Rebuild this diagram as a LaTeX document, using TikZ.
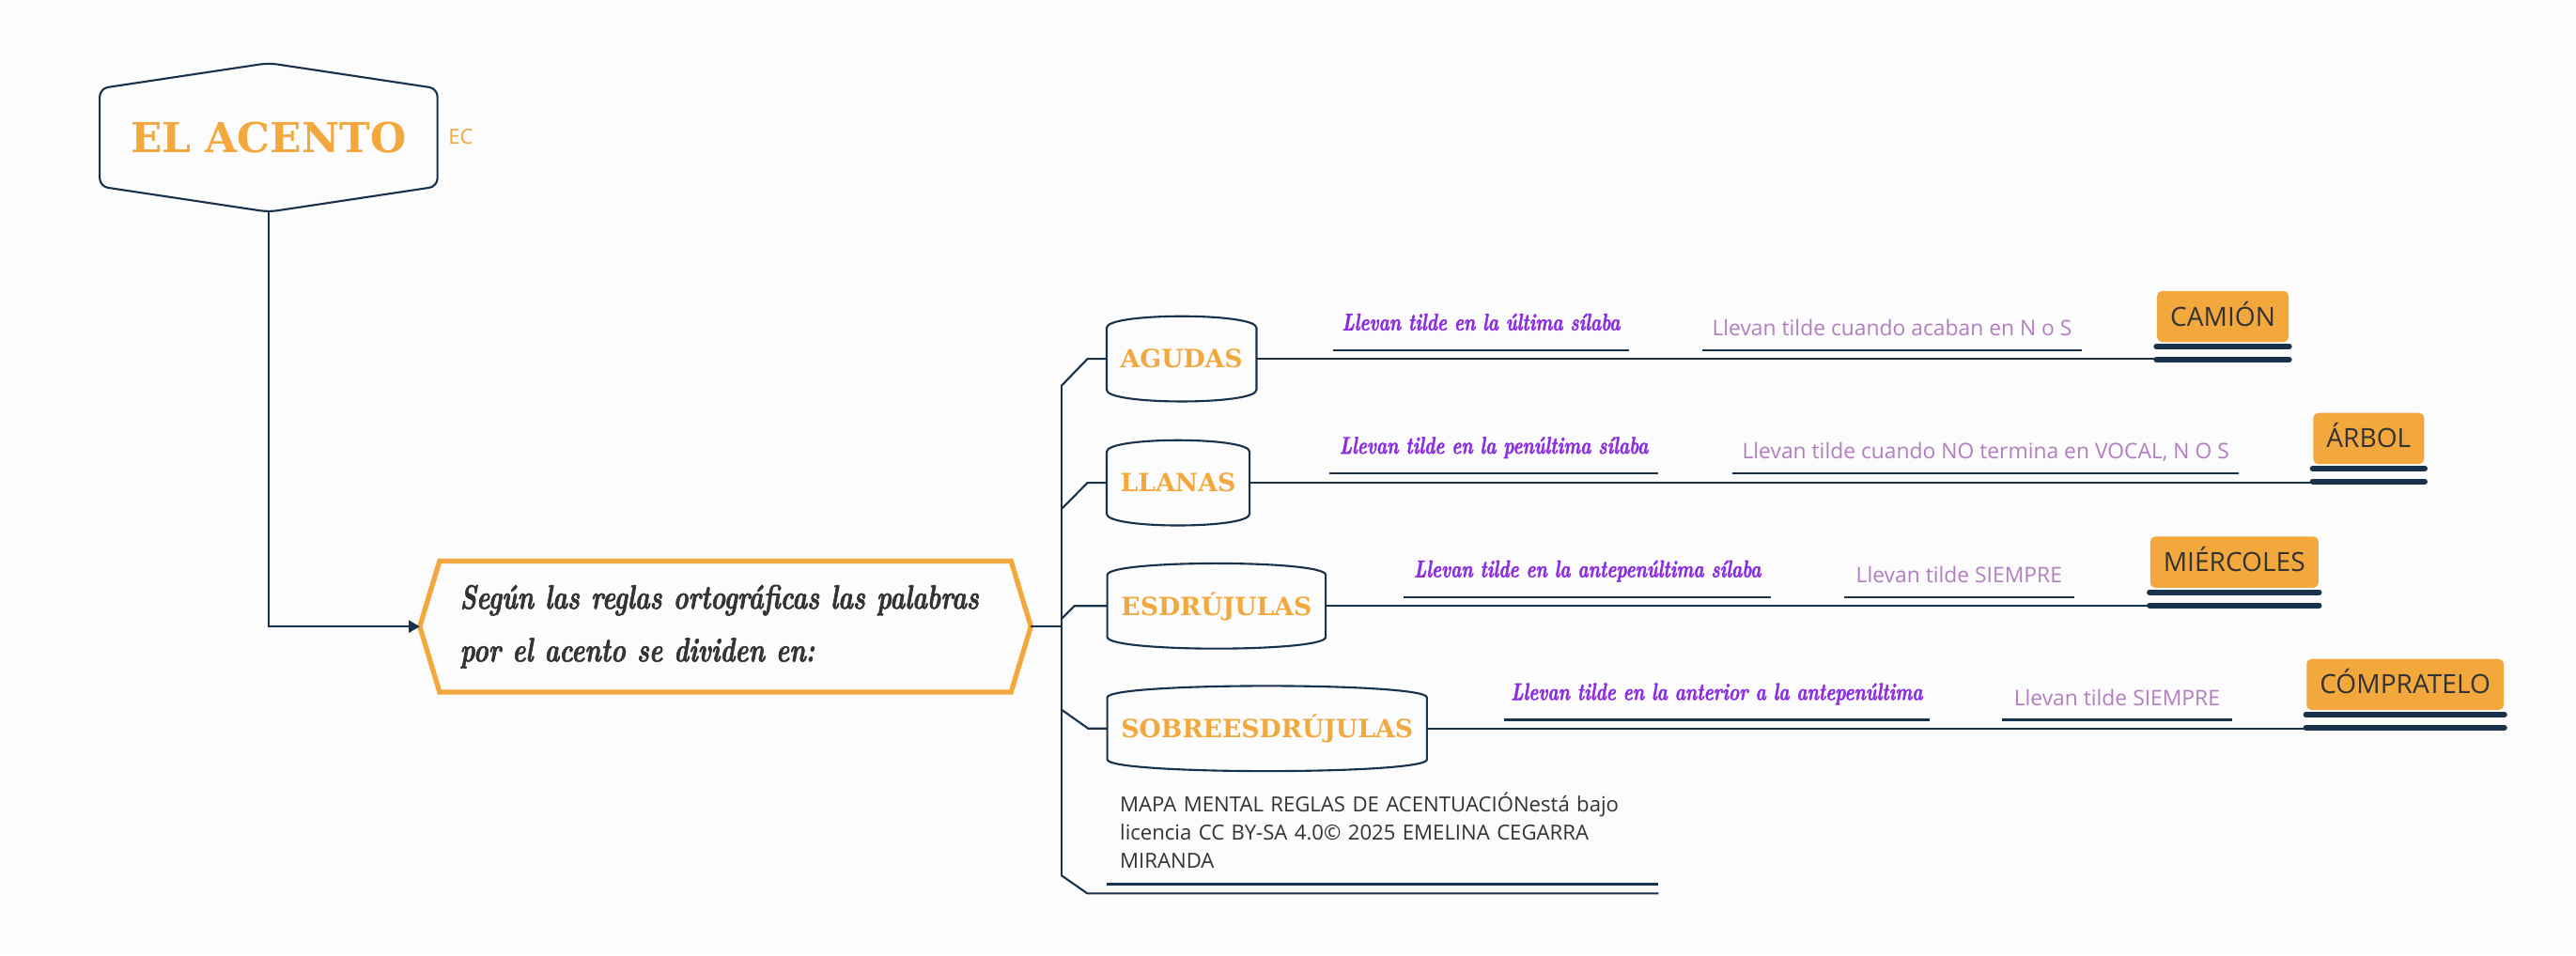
\documentclass[tikz,border=0pt]{standalone}
\usepackage{fontspec}
\setmainfont{Open Sans}
\newfontfamily\fuentetitulo{DejaVu Serif}
\newfontfamily\manuscrita{lmroman10-bolditalic}[Extension=.otf, FakeStretch=0.74, FakeBold=1.6]
\usetikzlibrary{arrows.meta}

\definecolor{azul}{HTML}{17324A}
\definecolor{naranja}{HTML}{F2A83C}
\definecolor{morado}{HTML}{8B2BE2}
\definecolor{lila}{HTML}{B27DC1}
\definecolor{oscuro}{HTML}{333333}
\definecolor{fondo}{HTML}{FCFCFC}

\tikzset{
  linea/.style={draw=azul, line width=0.6pt},
  barra/.style={draw=azul, line width=1.7pt, line cap=round},
  subrayado/.style={append after command={(\tikzlastnode.south west) edge[linea] (\tikzlastnode.south east)}},
  titulo/.style={text=naranja, font=\fuentetitulo\bfseries\fontsize{12.5}{15}\selectfont,
    minimum width=101.9pt, minimum height=29.3pt, text height=9.1pt, text depth=0pt},
  marca/.style={text=naranja, font=\fontsize{6.3}{8}\selectfont},
  hexa/.style={text=oscuro, font=\manuscrita\fontsize{10.3}{16}\selectfont, align=left,
    text width=160.7pt, inner xsep=6pt, minimum height=39.3pt},
  rama/.style={anchor=west, text=naranja, font=\fuentetitulo\bfseries\fontsize{7.6}{10}\selectfont,
    inner xsep=4pt, minimum height=18.4pt, text height=5.6pt, text depth=0pt},
  regla/.style={anchor=south, text=morado, font=\manuscrita\fontsize{7.3}{9}\selectfont,
    inner xsep=0pt, inner ysep=5.8pt, text depth=0pt, subrayado},
  nota/.style={anchor=south, text=lila, font=\fontsize{6.5}{8}\selectfont,
    inner xsep=0pt, inner ysep=4.2pt, text depth=0pt, subrayado},
  caja/.style={anchor=south, fill=naranja, rounded corners=1.5pt, text=oscuro, font=\fontsize{8}{10}\selectfont,
    inner xsep=4pt, minimum height=15.5pt, text height=5.7pt, text depth=0pt},
  pie/.style={anchor=south west, text=oscuro, font=\fontsize{6.3}{8.5}\selectfont, align=left,
    text width=159pt, inner xsep=3.9pt, inner ysep=4.7pt, subrayado}
}

\begin{document}
\begin{tikzpicture}[x=0.4976pt, y=-0.4976pt, >={Triangle[length=3.3pt,width=3.6pt]}]
  \fill[fondo] (0,0) rectangle (1568,581.6);

  % cabecera
  \node[titulo] (acento) at (163.5,83.7) {EL ACENTO};
  \node[marca] (ec) at (280.5,83.5) {EC};
  \node[hexa] (texto) at (441.5,381.5) {Según las reglas ortográficas las palabras\\por el acento se dividen en:};

  \coordinate (acento-pie) at ([yshift=-7.7pt]acento.south);
  \coordinate (texto-izq) at ([xshift=-6pt]texto.west);
  \coordinate (texto-der) at ([xshift=6pt]texto.east);

  \draw[linea, rounded corners=2.5pt] (acento.north west) -- ([yshift=7.7pt]acento.north) -- (acento.north east)
    -- (acento.south east) -- (acento-pie) -- (acento.south west) -- cycle;
  \draw[naranja, line width=1.5pt] (texto.north west) -- (texto.north east) -- (texto-der)
    -- (texto.south east) -- (texto.south west) -- (texto-izq) -- cycle;
  \draw[linea, line width=0.75pt, ->] (acento-pie) |- (texto-izq);

  % ramas
  \node[rama] (agudas) at (673.6,218.5) {AGUDAS};
  \node[rama] (llanas) at (673.6,294) {LLANAS};
  \node[rama] (esdrujulas) at (674,369) {ESDRÚJULAS};
  \node[rama] (sobre) at (674,443.6) {SOBREESDRÚJULAS};

  \draw[linea] (agudas.north west) .. controls +(0,-9.4) and +(0,-9.4) .. (agudas.north east) -- (agudas.south east) .. controls +(0,9.4) and +(0,9.4) .. (agudas.south west) -- cycle;
  \draw[linea] (llanas.north west) .. controls +(0,-9.4) and +(0,-9.4) .. (llanas.north east) -- (llanas.south east) .. controls +(0,9.4) and +(0,9.4) .. (llanas.south west) -- cycle;
  \draw[linea] (esdrujulas.north west) .. controls +(0,-9.4) and +(0,-9.4) .. (esdrujulas.north east) -- (esdrujulas.south east) .. controls +(0,9.4) and +(0,9.4) .. (esdrujulas.south west) -- cycle;
  \draw[linea] (sobre.north west) .. controls +(0,-9.4) and +(0,-9.4) .. (sobre.north east) -- (sobre.south east) .. controls +(0,9.4) and +(0,9.4) .. (sobre.south west) -- cycle;

  \node[pie] (pie) at (673.5,538.4) {MAPA MENTAL REGLAS DE ACENTUACIÓNestá bajo\\licencia CC BY-SA 4.0© 2025 EMELINA CEGARRA\\MIRANDA};

  % tronco
  \coordinate (t1) at (646,235);
  \coordinate (t2) at (646,310);
  \coordinate (t3) at (646,377);
  \coordinate (t4) at (646,432);
  \coordinate (t5) at (646,533);

  \draw[linea] (t1) -- (t5); \draw[linea] (texto-der) -- (texto-der -| t1);
  \draw[linea] (t1) -- ([xshift=-5.8pt]agudas.west) -- (agudas.west);
  \draw[linea] (t2) -- ([xshift=-5.8pt]llanas.west) -- (llanas.west);
  \draw[linea] (t3) -- ([xshift=-10pt]esdrujulas.west) -- (esdrujulas.west);
  \draw[linea] (t4) -- ([xshift=-5.8pt]sobre.west) -- (sobre.west);
  \draw[linea] (t5) -- ([xshift=-5.8pt,yshift=-2.8pt]pie.south west) -- ([yshift=-2.8pt]pie.south east);

  % reglas y ejemplos
  \node[regla, minimum width=89.1pt] (r1) at (901.5,213.2) {Llevan tilde en la última sílaba};
  \node[nota, minimum width=114.6pt] (n1) at (1151.7,213.2) {Llevan tilde cuando acaban en N o S};
  \node[caja] (camion) at (1353,208.7) {CAMIÓN};

  \node[regla, minimum width=99.2pt] (r2) at (909.3,288.3) {Llevan tilde en la penúltima sílaba};
  \node[nota, minimum width=153.1pt] (n2) at (1208.7,288.3) {Llevan tilde cuando NO termina en VOCAL, N O S};
  \node[caja] (arbol) at (1441.8,283) {ÁRBOL};

  \node[regla, minimum width=110.8pt] (r3) at (966.3,363.5) {Llevan tilde en la antepenúltima sílaba};
  \node[nota, minimum width=69.4pt] (n3) at (1192.5,363.5) {Llevan tilde SIEMPRE};
  \node[caja] (miercoles) at (1360,358.3) {MIÉRCOLES};

  \node[regla, minimum width=128.6pt] (r4) at (1045,438.3) {Llevan tilde en la anterior a la antepenúltima};
  \node[nota, minimum width=69.4pt] (n4) at (1288.6,438.3) {Llevan tilde SIEMPRE};
  \node[caja] (compratelo) at (1464,432.8) {CÓMPRATELO};

  \draw[linea] (agudas) -- (agudas -| camion.west);
  \draw[linea] (llanas) -- (llanas -| arbol.west);
  \draw[linea] (esdrujulas) -- (esdrujulas -| miercoles.west);
  \draw[linea] (sobre) -- (sobre -| compratelo.west);

  \draw[barra] ([yshift=-1.15pt]camion.south west) -- ([yshift=-1.15pt]camion.south east);
  \draw[barra] ([yshift=-5.1pt]camion.south west) -- ([yshift=-5.1pt]camion.south east);
  \draw[barra] ([yshift=-1.15pt]arbol.south west) -- ([yshift=-1.15pt]arbol.south east);
  \draw[barra] ([yshift=-5.1pt]arbol.south west) -- ([yshift=-5.1pt]arbol.south east);
  \draw[barra] ([yshift=-1.15pt]miercoles.south west) -- ([yshift=-1.15pt]miercoles.south east);
  \draw[barra] ([yshift=-5.1pt]miercoles.south west) -- ([yshift=-5.1pt]miercoles.south east);
  \draw[barra] ([yshift=-1.15pt]compratelo.south west) -- ([yshift=-1.15pt]compratelo.south east);
  \draw[barra] ([yshift=-5.1pt]compratelo.south west) -- ([yshift=-5.1pt]compratelo.south east);
\end{tikzpicture}
\end{document}
